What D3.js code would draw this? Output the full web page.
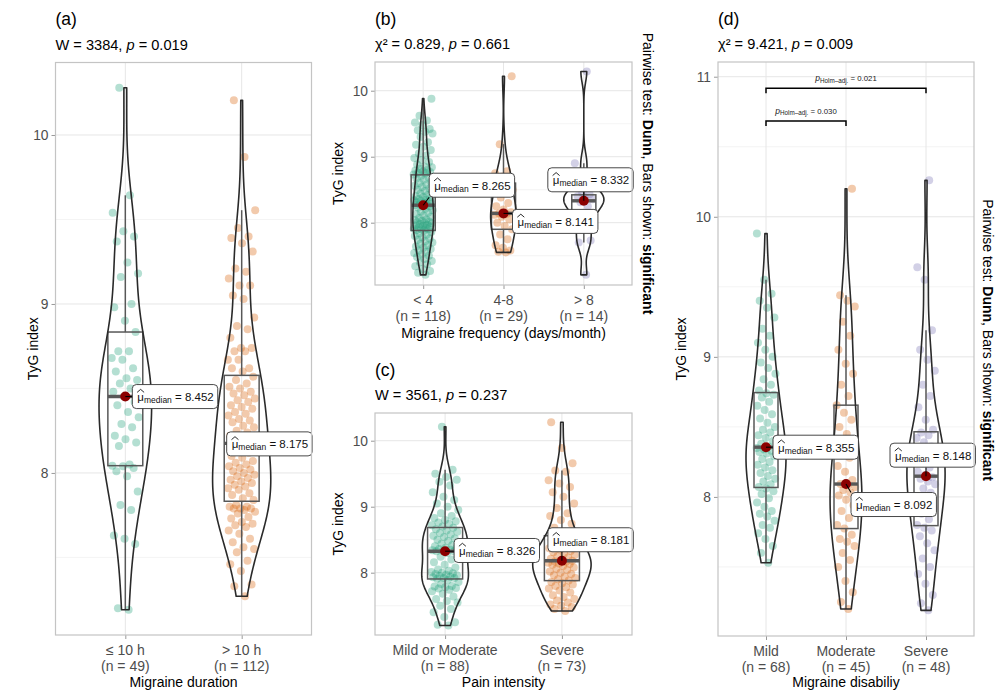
<!DOCTYPE html>
<html><head><meta charset="utf-8">
<script src="https://cdn.jsdelivr.net/npm/d3@7"></script>
<style>body{margin:0;background:#fff} svg{display:block}</style>
</head><body>
<svg id="chart" width="996" height="691"></svg>
<script>
// ---------------- DATA ----------------
const catA = ["≤ 10 h", "> 10 h"];
const a_le10 = [7.19,7.20,7.58,7.61,7.63,7.78,7.81,7.89,7.98,8.01,8.03,8.04,8.043,8.05,8.16,8.18,8.20,8.22,8.27,8.29,8.33,8.36,8.40,8.42,8.452,8.48,8.50,8.53,8.55,8.56,8.60,8.62,8.67,8.68,8.72,8.72,8.834,8.90,8.98,9.00,9.16,9.18,9.245,9.37,9.40,9.43,9.54,9.643,10.28];
const a_gt10 = [7.27,7.33,7.34,7.42,7.46,7.48,7.53,7.55,7.56,7.59,7.61,7.64,7.66,7.68,7.69,7.70,7.71,7.73,7.74,7.76,7.77,7.78,7.79,7.79,7.79,7.80,7.80,7.81,
  7.84,7.85,7.87,7.88,7.90,7.91,7.92,7.93,7.94,7.95,7.96,7.97,7.98,7.99,8.00,8.01,8.02,8.03,8.04,8.05,8.06,8.07,8.09,8.10,8.12,8.14,8.15,8.17,
  8.18,8.19,8.21,8.22,8.24,8.25,8.27,8.28,8.30,8.31,8.32,8.34,8.35,8.36,8.38,8.39,8.40,8.42,8.43,8.44,8.46,8.47,8.48,8.50,8.51,8.53,8.55,8.57,
  8.60,8.62,8.62,8.67,8.67,8.72,8.72,8.74,8.74,8.80,8.85,8.87,8.92,9.03,9.05,9.11,9.11,9.15,9.19,9.21,9.31,9.36,9.39,9.40,9.45,9.555,9.87,10.205];

const catB = ["< 4", "4-8", "> 8"];
const b_lt4 = [7.21,7.24,7.27,7.30,7.34,7.37,7.40,7.42,7.45,7.48,7.50,7.52,7.54,7.56,7.58,7.60,7.62,7.64,7.66,7.68,7.70,7.72,7.74,7.76,7.78,7.80,7.82,7.84,7.86,
  7.88,7.89,7.90,7.90,7.91,7.92,7.93,7.94,7.95,7.96,7.97,7.98,7.99,8.00,8.01,8.02,8.03,8.04,8.05,8.07,8.09,8.11,8.13,8.15,8.17,8.19,8.21,8.23,8.25,8.265,
  8.265,8.27,8.28,8.29,8.30,8.31,8.32,8.33,8.34,8.35,8.36,8.38,8.39,8.40,8.42,8.44,8.46,8.48,8.50,8.52,8.54,8.56,8.58,8.60,8.62,8.65,8.67,8.69,8.71,8.73,
  8.75,8.76,8.77,8.78,8.79,8.80,8.82,8.84,8.85,8.88,8.92,8.95,8.98,9.02,9.05,9.10,9.15,9.18,9.22,9.30,9.35,9.38,9.40,9.42,9.48,9.52,9.55,9.62,9.88];
const b_4to8 = [7.55,7.56,7.58,7.62,7.66,7.75,7.82,7.90,7.95,8.00,8.05,8.09,8.12,8.13,8.141,8.16,8.20,8.25,8.30,8.38,8.50,8.60,8.63,8.66,8.70,8.75,8.78,9.19,10.22];
const b_gt8 = [7.21,7.70,7.73,7.98,8.10,8.25,8.31,8.354,8.38,8.40,8.43,8.45,8.90,10.29];

const catC = ["Mild or Moderate", "Severe"];
const c_mild = [7.20,7.21,7.25,7.33,7.40,7.45,7.50,7.55,7.57,7.60,7.64,7.68,7.72,7.74,7.76,7.77,7.78,7.79,7.80,7.83,7.86,7.89,
  7.91,7.92,7.92,7.93,7.94,7.95,7.96,7.97,7.98,7.99,8.00,8.01,8.03,8.05,8.08,8.12,8.16,8.20,8.24,8.27,8.30,8.326,
  8.326,8.33,8.34,8.35,8.36,8.37,8.38,8.40,8.42,8.44,8.46,8.48,8.50,8.52,8.54,8.56,8.58,8.60,8.62,8.64,8.66,8.68,
  8.70,8.72,8.74,8.76,8.78,8.80,8.83,8.86,8.90,8.95,9.00,9.05,9.10,9.15,9.22,9.32,9.38,9.41,9.45,9.50,9.56,10.21];
const c_severe = [7.42,7.45,7.48,7.50,7.52,7.55,7.58,7.60,7.63,7.66,7.70,7.73,7.76,7.78,7.80,7.82,7.84,7.86,7.88,
  7.90,7.92,7.94,7.96,7.98,8.00,8.02,8.04,8.06,8.08,8.10,8.12,8.13,8.14,8.15,8.16,8.17,8.181,
  8.19,8.21,8.23,8.25,8.27,8.29,8.31,8.33,8.35,8.37,8.40,8.42,8.44,8.47,8.50,8.52,8.54,8.56,
  8.62,8.68,8.74,8.80,8.86,8.90,8.98,9.05,9.15,9.22,9.30,9.35,9.40,9.53,9.55,9.66,9.89,10.28];

const catD = ["Mild", "Moderate", "Severe"];
const d_mild = [7.53,7.60,7.65,7.70,7.74,7.78,7.80,7.83,7.86,7.88,7.90,7.93,7.96,7.99,8.02,8.04,8.06,
  8.07,8.09,8.11,8.13,8.15,8.17,8.19,8.21,8.23,8.25,8.27,8.29,8.31,8.32,8.33,8.34,8.35,
  8.36,8.38,8.40,8.42,8.44,8.46,8.48,8.50,8.53,8.56,8.59,8.62,8.65,8.68,8.71,8.73,8.74,
  8.76,8.80,8.84,8.88,8.92,8.96,9.00,9.05,9.10,9.15,9.20,9.28,9.35,9.40,9.45,9.55,9.88];
const d_moderate = [7.20,7.25,7.32,7.40,7.50,7.55,7.60,7.65,7.68,7.70,7.73,7.774,7.80,7.85,7.90,7.94,7.98,8.01,8.03,8.05,8.07,8.08,8.092,
  8.12,8.18,8.22,8.28,8.33,8.38,8.45,8.50,8.55,8.60,8.655,8.72,8.80,8.88,8.95,9.05,9.15,9.25,9.36,9.40,9.44,10.20];
const d_severe = [7.19,7.24,7.30,7.38,7.45,7.50,7.56,7.62,7.67,7.72,7.76,7.78,7.80,7.84,7.88,7.92,7.96,8.00,8.03,8.06,8.09,8.11,8.13,8.14,
  8.156,8.18,8.21,8.24,8.27,8.30,8.33,8.36,8.39,8.42,8.44,8.46,8.48,8.55,8.64,8.72,8.80,8.90,8.98,9.05,9.19,9.55,9.64,10.26];

const subtitleA = ["W = 3384, ", "p", " = 0.019"];
const subtitleB = ["χ² = 0.829, ", "p", " = 0.661"];
const subtitleC = ["W = 3561, ", "p", " = 0.237"];
const subtitleD = ["χ² = 9.421, ", "p", " = 0.009"];
const xTitles = ["Migraine duration", "Migraine frequency (days/month)", "Pain intensity", "Migraine disabiliy"];
const yTicksABC = [8, 9, 10];
const yTicksD = [8, 9, 10, 11];
// pairwise comparisons shown in (d): [group1, group2, p-value label]
const pairsD = [["Mild", "Severe", "0.021"], ["Mild", "Moderate", "0.030"]];
const pairsDy = [10.917, 10.684];

// ---------------- RENDER ----------------
const svg = d3.select('#chart');
const FONT = "'Liberation Sans', Arial, Helvetica, sans-serif";
const COLORS = ['#1B9E77', '#D95F02', '#7570B3'];

function kde(vals) {
  const s = vals.slice().sort(d3.ascending);
  const n = s.length;
  const sd = d3.deviation(s);
  const iqr = d3.quantileSorted(s, 0.75) - d3.quantileSorted(s, 0.25);
  const bw = 0.9 * Math.min(sd, iqr / 1.34) * Math.pow(n, -0.2);
  const lo = s[0], hi = s[n - 1], N = 256, out = [];
  for (let k = 0; k < N; k++) {
    const y = lo + (hi - lo) * k / (N - 1);
    let sum = 0;
    for (const v of s) { const u = (y - v) / bw; sum += Math.exp(-0.5 * u * u); }
    out.push({ y, d: sum / (n * bw * Math.sqrt(2 * Math.PI)) });
  }
  return out;
}
function boxStats(vals) {
  const s = vals.slice().sort(d3.ascending);
  const q1 = d3.quantileSorted(s, 0.25), med = d3.quantileSorted(s, 0.5), q3 = d3.quantileSorted(s, 0.75);
  const iqr = q3 - q1;
  const lo = d3.min(s.filter(v => v >= q1 - 1.5 * iqr)), hi = d3.max(s.filter(v => v <= q3 + 1.5 * iqr));
  return { q1, med, q3, lo, hi };
}

function drawPanel(cfg) {
  const g = svg.append('g');
  const nC = cfg.cats.length;
  const x = d3.scaleLinear().domain([0.4, nC + 0.6]).range([cfg.left, cfg.right]);
  const y = d3.scaleLinear().domain(cfg.yDomain).range([cfg.bottom, cfg.top]);
  const pxU = x(1) - x(0);

  // grid
  cfg.minor.forEach(v => g.append('line').attr('x1', cfg.left).attr('x2', cfg.right).attr('y1', y(v)).attr('y2', y(v)).attr('stroke', '#EFEFEF').attr('stroke-width', 0.7));
  cfg.ticks.forEach(v => g.append('line').attr('x1', cfg.left).attr('x2', cfg.right).attr('y1', y(v)).attr('y2', y(v)).attr('stroke', '#E6E6E6').attr('stroke-width', 1));
  cfg.cats.forEach((c, i) => g.append('line').attr('x1', x(i + 1)).attr('x2', x(i + 1)).attr('y1', cfg.top).attr('y2', cfg.bottom).attr('stroke', '#E6E6E6').attr('stroke-width', 1));

  // axes
  const yAxis = d3.axisLeft(y).tickValues(cfg.ticks).tickFormat(d3.format('d')).tickSize(4).tickPadding(3);
  const ya = g.append('g').attr('transform', `translate(${cfg.left},0)`).call(yAxis);
  ya.select('.domain').remove();
  ya.selectAll('line').attr('stroke', '#999');
  ya.selectAll('text').attr('font-family', FONT).attr('font-size', 13.8).attr('fill', '#4D4D4D');
  const xAxis = d3.axisBottom(x).tickValues(d3.range(1, nC + 1)).tickFormat('').tickSize(4);
  const xa = g.append('g').attr('transform', `translate(0,${cfg.bottom})`).call(xAxis);
  xa.select('.domain').remove();
  xa.selectAll('line').attr('stroke', '#999');

  const stats = cfg.groups.map(boxStats);
  const dens = cfg.groups.map(kde);
  const maxD = d3.max(dens, ds => d3.max(ds, p => p.d));

  // jittered points
  cfg.groups.forEach((vals, gi) => {
    g.append('g').selectAll('circle').data(vals).join('circle')
      .attr('cx', (v, i) => x(gi + 1 + ((((i + 1) * 0.6180339887) % 1) - 0.5) * 0.24))
      .attr('cy', v => y(v)).attr('r', 4)
      .attr('fill', COLORS[gi]).attr('fill-opacity', 0.33);
  });
  // boxplots
  stats.forEach((s, gi) => {
    const cx = x(gi + 1), hw = 0.15 * pxU;
    const bg = g.append('g').attr('stroke', '#585858').attr('fill', 'none');
    bg.append('line').attr('x1', cx).attr('x2', cx).attr('y1', y(s.q3)).attr('y2', y(s.hi)).attr('stroke-width', 1.5);
    bg.append('line').attr('x1', cx).attr('x2', cx).attr('y1', y(s.q1)).attr('y2', y(s.lo)).attr('stroke-width', 1.5);
    bg.append('rect').attr('x', cx - hw).attr('width', 2 * hw).attr('y', y(s.q3)).attr('height', y(s.q1) - y(s.q3)).attr('stroke-width', 1.5);
    bg.append('line').attr('x1', cx - hw).attr('x2', cx + hw).attr('y1', y(s.med)).attr('y2', y(s.med)).attr('stroke-width', 3.4);
  });
  // violins
  dens.forEach((ds, gi) => {
    const cx = x(gi + 1);
    const w = p => p.d / maxD * 0.25 * pxU;
    const right = ds.map(p => [cx + w(p), y(p.y)]);
    const left = ds.slice().reverse().map(p => [cx - w(p), y(p.y)]);
    g.append('path').attr('d', d3.line()(right.concat(left)) + 'Z')
      .attr('fill', 'none').attr('stroke', '#2A2A2A').attr('stroke-width', 1.6).attr('stroke-linejoin', 'round');
  });
  // centrality points + labels
  stats.forEach((s, gi) => {
    const px = x(gi + 1), py = y(s.med);
    g.append('circle').attr('cx', px).attr('cy', py).attr('r', 5).attr('fill', '#8B0000');
  });
  stats.forEach((s, gi) => {
    const px = x(gi + 1), py = y(s.med);
    const [ox, oy] = cfg.labelOff[gi];
    const lx = px + ox, cy = py + oy, h = 24;
    const lg = g.append('g');
    const rect = lg.append('rect').attr('x', lx).attr('y', cy - h / 2).attr('height', h).attr('rx', 4)
      .attr('fill', '#fff').attr('stroke', '#333').attr('stroke-width', 0.9);
    const t = lg.append('text').attr('x', lx + 5).attr('y', cy + 4.5).attr('font-family', FONT).attr('fill', '#111');
    t.append('tspan').attr('font-size', 11.5).text('μ');
    t.append('tspan').attr('font-size', 8.5).attr('dy', 2).text('median');
    t.append('tspan').attr('font-size', 11.5).attr('dy', -2).text(' = ' + d3.format('.3f')(s.med));
    const tw = t.node().getComputedTextLength();
    const rw = tw + 9;
    rect.attr('width', rw);
    // wide hat over mu
    lg.append('path').attr('d', `M${lx + 4.8},${cy - 4.2} L${lx + 8.3},${cy - 7.2} L${lx + 11.8},${cy - 4.2}`)
      .attr('fill', 'none').attr('stroke', '#111').attr('stroke-width', 0.9);
    // connector segment
    const nx = Math.max(lx, Math.min(px, lx + rw)), ny = Math.max(cy - h / 2, Math.min(py, cy + h / 2));
    if (Math.hypot(nx - px, ny - py) > 5) {
      g.insert('line', () => lg.node()).attr('x1', px).attr('y1', py).attr('x2', nx).attr('y2', ny)
        .attr('stroke', '#000').attr('stroke-width', 1.1);
    }
  });

  // pairwise bars
  if (cfg.pairs) {
    cfg.pairs.forEach((p, k) => {
      const i1 = cfg.cats.indexOf(p[0]) + 1, i2 = cfg.cats.indexOf(p[1]) + 1;
      const by = y(cfg.pairsY[k]);
      g.append('path').attr('d', `M${x(i1)},${by + 5} L${x(i1)},${by} L${x(i2)},${by} L${x(i2)},${by + 5}`)
        .attr('fill', 'none').attr('stroke', '#000').attr('stroke-width', 1.5);
      const tt = g.append('text').attr('x', (x(i1) + x(i2)) / 2).attr('y', by - 7).attr('text-anchor', 'middle')
        .attr('font-family', FONT).attr('fill', '#222');
      tt.append('tspan').attr('font-size', 8.5).attr('font-style', 'italic').text('p');
      tt.append('tspan').attr('font-size', 6.3).attr('dy', 1.5).text('Holm–adj.');
      tt.append('tspan').attr('font-size', 7.8).attr('dy', -1.5).text(' = ' + p[2]);
    });
  }

  // panel border
  g.append('rect').attr('x', cfg.left).attr('y', cfg.top).attr('width', cfg.right - cfg.left).attr('height', cfg.bottom - cfg.top)
    .attr('fill', 'none').attr('stroke', '#C4C4C4').attr('stroke-width', 1.2);

  // x labels
  cfg.cats.forEach((c, i) => {
    g.append('text').attr('x', x(i + 1)).attr('y', cfg.bottom + 20).attr('text-anchor', 'middle')
      .attr('font-family', FONT).attr('font-size', 14).attr('fill', '#4D4D4D').text(c);
    g.append('text').attr('x', x(i + 1)).attr('y', cfg.bottom + 35.5).attr('text-anchor', 'middle')
      .attr('font-family', FONT).attr('font-size', 14).attr('fill', '#4D4D4D').text(`(n = ${cfg.groups[i].length})`);
  });
  g.append('text').attr('x', (cfg.left + cfg.right) / 2).attr('y', Math.min(cfg.bottom + 53, 687)).attr('text-anchor', 'middle')
    .attr('font-family', FONT).attr('font-size', 14).attr('fill', '#000').text(cfg.xTitle);
  g.append('text').attr('transform', `translate(${cfg.yTitleX},${(cfg.top + cfg.bottom) / 2}) rotate(-90)`)
    .attr('text-anchor', 'middle').attr('dominant-baseline', 'central')
    .attr('font-family', FONT).attr('font-size', 14).attr('fill', '#000').text('TyG index');

  // title + subtitle
  g.append('text').attr('x', cfg.left).attr('y', cfg.top - 37.5).attr('font-family', FONT).attr('font-size', 17.5).attr('fill', '#000').text(cfg.title);
  const st = g.append('text').attr('x', cfg.left).attr('y', cfg.top - 13).attr('font-family', FONT).attr('font-size', 14.6).attr('fill', '#000');
  st.append('tspan').text(cfg.subtitle[0]);
  st.append('tspan').attr('font-style', 'italic').text(cfg.subtitle[1]);
  st.append('tspan').text(cfg.subtitle[2]);

  if (cfg.caption) {
    const ct = g.append('text').attr('transform', `translate(${cfg.caption[0]},${cfg.caption[1]}) rotate(90)`)
      .attr('text-anchor', 'middle').attr('dominant-baseline', 'central')
      .attr('font-family', FONT).attr('font-size', 14).attr('fill', '#000');
    ct.append('tspan').text('Pairwise test: ');
    ct.append('tspan').attr('font-weight', 'bold').text('Dunn');
    ct.append('tspan').text(', Bars shown: ');
    ct.append('tspan').attr('font-weight', 'bold').text('significant');
  }
}

drawPanel({ title: '(a)', subtitle: subtitleA, cats: catA, groups: [a_le10, a_gt10], xTitle: xTitles[0],
  left: 55.5, right: 311.5, top: 62.5, bottom: 635, yDomain: [7.041, 10.429], ticks: yTicksABC, minor: [7.5, 8.5, 9.5],
  yTitleX: 33, labelOff: [[7, 0], [-15, 0.5]] });
drawPanel({ title: '(b)', subtitle: subtitleB, cats: catB, groups: [b_lt4, b_4to8, b_gt8], xTitle: xTitles[1],
  left: 375, right: 632, top: 62, bottom: 285, yDomain: [7.056, 10.435], ticks: yTicksABC, minor: [7.5, 8.5, 9.5],
  yTitleX: 338, labelOff: [[6, -20], [9, 8], [-36, -21]], caption: [648, 173.5] });
drawPanel({ title: '(c)', subtitle: subtitleC, cats: catC, groups: [c_mild, c_severe], xTitle: xTitles[2],
  left: 375, right: 632, top: 413, bottom: 635, yDomain: [7.056, 10.42], ticks: yTicksABC, minor: [7.5, 8.5, 9.5],
  yTitleX: 338, labelOff: [[9, -0.7], [-14, -21]] });
drawPanel({ title: '(d)', subtitle: subtitleD, cats: catD, groups: [d_mild, d_moderate, d_severe], xTitle: xTitles[3],
  left: 718, right: 974, top: 62, bottom: 636, yDomain: [7.007, 11.105], ticks: yTicksD, minor: [7.5, 8.5, 9.5, 10.5],
  yTitleX: 681, labelOff: [[7, 0], [5, 20.5], [-36, -21]], caption: [988, 340],
  pairs: pairsD, pairsY: pairsDy });
</script>
</body></html>
